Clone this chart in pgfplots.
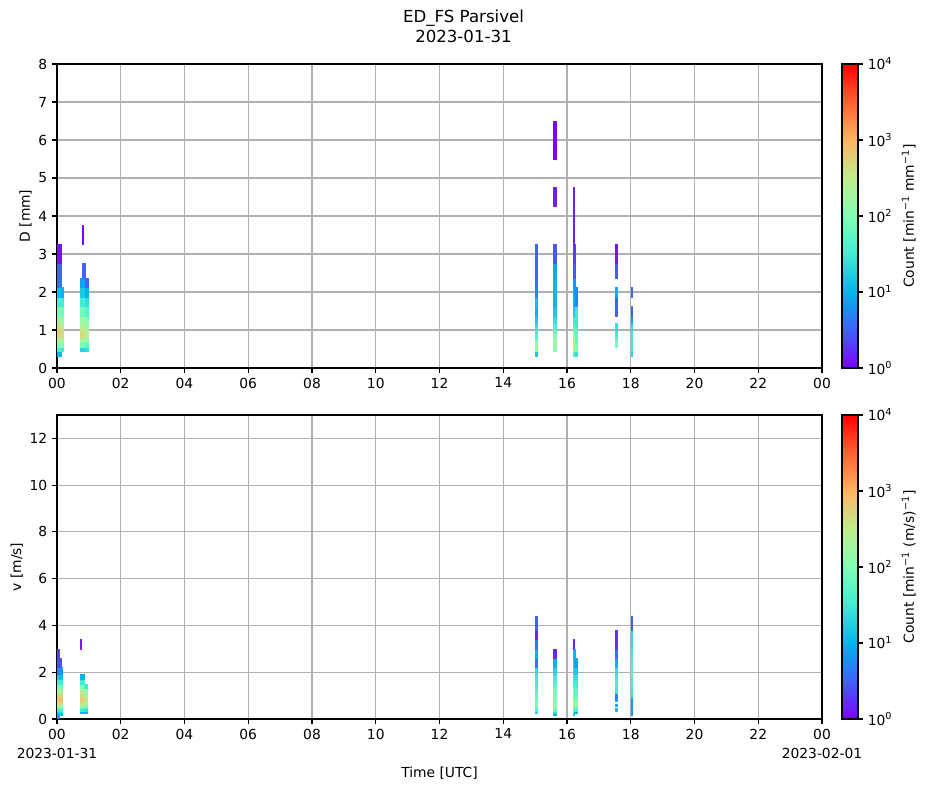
\documentclass[border=0pt]{standalone}
\usepackage{fontspec}
\setmainfont{DejaVu Sans}
\usepackage{pgfplots}
\pgfplotsset{compat=1.18}
\usepgfplotslibrary{patchplots}
\definecolor{gridgray}{RGB}{176,176,176}
\pgfplotsset{
  colormap={mplrainbow}{rgb=(0.5,0,1) rgb=(0.25,0.383,0.981) rgb=(0,0.707,0.924) rgb=(0.25,0.924,0.831) rgb=(0.5,1,0.707) rgb=(0.75,0.924,0.556) rgb=(1,0.707,0.383) rgb=(1,0.383,0.195) rgb=(1,0,0)},
  /pgf/number format/assume math mode=true,
  cells/.style={patch, patch type=rectangle, shader=flat, point meta=explicit, line width=0.2bp},
  panel/.style={
    scale only axis, width=550.8bp, height=218.88bp,
    xmin=0, xmax=24, xtick={0,2,...,24},
    grid=major, grid style={gridgray, line width=0.8bp},
    axis line style={line width=0.8bp},
    every tick/.style={black, line width=0.8bp},
    tick align=outside, major tick length=3.5bp, tick pos=left,
    ylabel shift=-2bp,
    colormap name=mplrainbow, point meta min=0, point meta max=4,
    colorbar,
    colorbar shift/.style={xshift=14.4bp},
    colorbar style={
      at={(parent axis.north east)}, anchor=north west,
      width=11.52bp,
      axis line style={line width=0.8bp},
      every tick/.style={black, line width=0.8bp},
      tick align=outside, major tick length=3.5bp,
      ytick={0,1,2,3,4},
      yticklabels={10\textsuperscript{4},10\textsuperscript{1},10\textsuperscript{2},10\textsuperscript{3},10\textsuperscript{4}},
      yticklabels={10\textsuperscript{0},10\textsuperscript{1},10\textsuperscript{2},10\textsuperscript{3},10\textsuperscript{4}},
      ytick pos=right, yticklabel pos=right, ylabel near ticks,
    },
  },
}
\begin{document}
\fontsize{10}{12}\selectfont
\begin{tikzpicture}
\path[use as bounding box] (0bp,0bp) rectangle (667.44bp,-567.36bp);
\node[align=center, font=\fontsize{12}{14.4}\selectfont] at (333.72bp,-18.72bp) {ED\_FS Parsivel\\2023-01-31};
% ---------------- top panel: diameter ----------------
\begin{axis}[panel, at={(41.04bp,-264.96bp)}, anchor=south west,
  ymin=0, ymax=8, ytick={0,1,...,8},
  xticklabels={00,02,04,06,08,10,12,14,16,18,20,22,00},
  ylabel={D [mm]},
  colorbar style={ylabel={Count [min\textsuperscript{−1} mm\textsuperscript{−1}]}},
]
\addplot[cells] coordinates {
(0.02,0.312)[1.0] (0.12,0.312)[1.0] (0.12,0.437)[1.0] (0.02,0.437)[1.0]
(0.02,0.437)[1.6] (0.12,0.437)[1.6] (0.12,0.562)[1.6] (0.02,0.562)[1.6]
(0.02,0.562)[2.0] (0.12,0.562)[2.0] (0.12,0.687)[2.0] (0.02,0.687)[2.0]
(0.02,0.687)[2.4] (0.12,0.687)[2.4] (0.12,0.812)[2.4] (0.02,0.812)[2.4]
(0.02,0.812)[2.7] (0.12,0.812)[2.7] (0.12,0.937)[2.7] (0.02,0.937)[2.7]
(0.02,0.937)[2.8] (0.12,0.937)[2.8] (0.12,1.062)[2.8] (0.02,1.062)[2.8]
(0.02,1.062)[2.6] (0.12,1.062)[2.6] (0.12,1.187)[2.6] (0.02,1.187)[2.6]
(0.02,1.187)[2.3] (0.12,1.187)[2.3] (0.12,1.375)[2.3] (0.02,1.375)[2.3]
(0.02,1.375)[2.0] (0.12,1.375)[2.0] (0.12,1.625)[2.0] (0.02,1.625)[2.0]
(0.02,1.625)[1.6] (0.12,1.625)[1.6] (0.12,1.875)[1.6] (0.02,1.875)[1.6]
(0.02,1.875)[1.1] (0.12,1.875)[1.1] (0.12,2.125)[1.1] (0.02,2.125)[1.1]
(0.02,2.125)[0.6] (0.12,2.125)[0.6] (0.12,2.375)[0.6] (0.02,2.375)[0.6]
(0.02,2.375)[0.5] (0.12,2.375)[0.5] (0.12,2.75)[0.5] (0.02,2.75)[0.5]
(0.02,2.75)[0.1] (0.12,2.75)[0.1] (0.12,3.25)[0.1] (0.02,3.25)[0.1]
(0.12,0.437)[1.5] (0.19,0.437)[1.5] (0.19,0.562)[1.5] (0.12,0.562)[1.5]
(0.12,0.562)[2.0] (0.19,0.562)[2.0] (0.19,0.687)[2.0] (0.12,0.687)[2.0]
(0.12,0.687)[2.3] (0.19,0.687)[2.3] (0.19,0.812)[2.3] (0.12,0.812)[2.3]
(0.12,0.812)[2.6] (0.19,0.812)[2.6] (0.19,0.937)[2.6] (0.12,0.937)[2.6]
(0.12,0.937)[2.6] (0.19,0.937)[2.6] (0.19,1.062)[2.6] (0.12,1.062)[2.6]
(0.12,1.062)[2.4] (0.19,1.062)[2.4] (0.19,1.187)[2.4] (0.12,1.187)[2.4]
(0.12,1.187)[2.2] (0.19,1.187)[2.2] (0.19,1.375)[2.2] (0.12,1.375)[2.2]
(0.12,1.375)[1.9] (0.19,1.375)[1.9] (0.19,1.625)[1.9] (0.12,1.625)[1.9]
(0.12,1.625)[1.5] (0.19,1.625)[1.5] (0.19,1.875)[1.5] (0.12,1.875)[1.5]
(0.12,1.875)[1.0] (0.19,1.875)[1.0] (0.19,2.125)[1.0] (0.12,2.125)[1.0]
(0.72,0.437)[1.3] (0.88,0.437)[1.3] (0.88,0.562)[1.3] (0.72,0.562)[1.3]
(0.72,0.562)[1.9] (0.88,0.562)[1.9] (0.88,0.687)[1.9] (0.72,0.687)[1.9]
(0.72,0.687)[2.3] (0.88,0.687)[2.3] (0.88,0.812)[2.3] (0.72,0.812)[2.3]
(0.72,0.812)[2.7] (0.88,0.812)[2.7] (0.88,0.937)[2.7] (0.72,0.937)[2.7]
(0.72,0.937)[2.6] (0.88,0.937)[2.6] (0.88,1.062)[2.6] (0.72,1.062)[2.6]
(0.72,1.062)[2.4] (0.88,1.062)[2.4] (0.88,1.187)[2.4] (0.72,1.187)[2.4]
(0.72,1.187)[2.2] (0.88,1.187)[2.2] (0.88,1.375)[2.2] (0.72,1.375)[2.2]
(0.72,1.375)[1.9] (0.88,1.375)[1.9] (0.88,1.625)[1.9] (0.72,1.625)[1.9]
(0.72,1.625)[1.5] (0.88,1.625)[1.5] (0.88,1.875)[1.5] (0.72,1.875)[1.5]
(0.72,1.875)[1.2] (0.88,1.875)[1.2] (0.88,2.125)[1.2] (0.72,2.125)[1.2]
(0.72,2.125)[0.9] (0.88,2.125)[0.9] (0.88,2.375)[0.9] (0.72,2.375)[0.9]
(0.78,3.25)[0.05] (0.83,3.25)[0.05] (0.83,3.75)[0.05] (0.78,3.75)[0.05]
(0.80,2.375)[0.5] (0.88,2.375)[0.5] (0.88,2.75)[0.5] (0.80,2.75)[0.5]
(0.88,0.437)[1.4] (0.97,0.437)[1.4] (0.97,0.562)[1.4] (0.88,0.562)[1.4]
(0.88,0.562)[1.8] (0.97,0.562)[1.8] (0.97,0.687)[1.8] (0.88,0.687)[1.8]
(0.88,0.687)[2.1] (0.97,0.687)[2.1] (0.97,0.812)[2.1] (0.88,0.812)[2.1]
(0.88,0.812)[2.4] (0.97,0.812)[2.4] (0.97,1.062)[2.4] (0.88,1.062)[2.4]
(0.88,1.062)[2.2] (0.97,1.062)[2.2] (0.97,1.187)[2.2] (0.88,1.187)[2.2]
(0.88,1.187)[2.0] (0.97,1.187)[2.0] (0.97,1.375)[2.0] (0.88,1.375)[2.0]
(0.88,1.375)[1.7] (0.97,1.375)[1.7] (0.97,1.625)[1.7] (0.88,1.625)[1.7]
(0.88,1.625)[1.4] (0.97,1.625)[1.4] (0.97,1.875)[1.4] (0.88,1.875)[1.4]
(0.88,1.875)[1.0] (0.97,1.875)[1.0] (0.97,2.125)[1.0] (0.88,2.125)[1.0]
(0.88,2.125)[0.5] (0.97,2.125)[0.5] (0.97,2.375)[0.5] (0.88,2.375)[0.5]
(15.0,0.312)[1.2] (15.05,0.312)[1.2] (15.05,0.437)[1.2] (15.0,0.437)[1.2]
(15.0,0.437)[2.3] (15.05,0.437)[2.3] (15.05,0.562)[2.3] (15.0,0.562)[2.3]
(15.0,0.562)[2.2] (15.05,0.562)[2.2] (15.05,0.687)[2.2] (15.0,0.687)[2.2]
(15.0,0.687)[1.9] (15.05,0.687)[1.9] (15.05,0.812)[1.9] (15.0,0.812)[1.9]
(15.0,0.812)[1.6] (15.05,0.812)[1.6] (15.05,0.937)[1.6] (15.0,0.937)[1.6]
(15.0,0.937)[1.5] (15.05,0.937)[1.5] (15.05,1.062)[1.5] (15.0,1.062)[1.5]
(15.0,1.062)[1.4] (15.05,1.062)[1.4] (15.05,1.187)[1.4] (15.0,1.187)[1.4]
(15.0,1.187)[1.2] (15.05,1.187)[1.2] (15.05,1.375)[1.2] (15.0,1.375)[1.2]
(15.0,1.375)[1.0] (15.05,1.375)[1.0] (15.05,1.625)[1.0] (15.0,1.625)[1.0]
(15.0,1.625)[1.1] (15.05,1.625)[1.1] (15.05,1.875)[1.1] (15.0,1.875)[1.1]
(15.0,1.875)[0.7] (15.05,1.875)[0.7] (15.05,2.125)[0.7] (15.0,2.125)[0.7]
(15.0,2.125)[0.6] (15.05,2.125)[0.6] (15.05,2.375)[0.6] (15.0,2.375)[0.6]
(15.0,2.375)[0.5] (15.05,2.375)[0.5] (15.05,3.25)[0.5] (15.0,3.25)[0.5]
(15.58,0.437)[2.1] (15.65,0.437)[2.1] (15.65,0.562)[2.1] (15.58,0.562)[2.1]
(15.58,0.562)[2.2] (15.65,0.562)[2.2] (15.65,0.812)[2.2] (15.58,0.812)[2.2]
(15.58,0.812)[2.0] (15.65,0.812)[2.0] (15.65,0.937)[2.0] (15.58,0.937)[2.0]
(15.58,0.937)[1.7] (15.65,0.937)[1.7] (15.65,1.062)[1.7] (15.58,1.062)[1.7]
(15.58,1.062)[1.6] (15.65,1.062)[1.6] (15.65,1.187)[1.6] (15.58,1.187)[1.6]
(15.58,1.187)[1.4] (15.65,1.187)[1.4] (15.65,1.375)[1.4] (15.58,1.375)[1.4]
(15.58,1.375)[1.2] (15.65,1.375)[1.2] (15.65,1.625)[1.2] (15.58,1.625)[1.2]
(15.58,1.625)[1.05] (15.65,1.625)[1.05] (15.65,2.375)[1.05] (15.58,2.375)[1.05]
(15.58,2.375)[0.95] (15.65,2.375)[0.95] (15.65,2.75)[0.95] (15.58,2.75)[0.95]
(15.58,2.75)[0.45] (15.65,2.75)[0.45] (15.65,3.25)[0.45] (15.58,3.25)[0.45]
(15.58,4.25)[0.15] (15.65,4.25)[0.15] (15.65,4.75)[0.15] (15.58,4.75)[0.15]
(15.58,5.5)[0.0] (15.65,5.5)[0.0] (15.65,6.5)[0.0] (15.58,6.5)[0.0]
(16.18,0.312)[1.6] (16.27,0.312)[1.6] (16.27,0.437)[1.6] (16.18,0.437)[1.6]
(16.18,0.437)[2.3] (16.27,0.437)[2.3] (16.27,0.562)[2.3] (16.18,0.562)[2.3]
(16.18,0.562)[2.6] (16.27,0.562)[2.6] (16.27,0.687)[2.6] (16.18,0.687)[2.6]
(16.18,0.687)[2.5] (16.27,0.687)[2.5] (16.27,0.812)[2.5] (16.18,0.812)[2.5]
(16.18,0.812)[2.2] (16.27,0.812)[2.2] (16.27,0.937)[2.2] (16.18,0.937)[2.2]
(16.18,0.937)[1.9] (16.27,0.937)[1.9] (16.27,1.062)[1.9] (16.18,1.062)[1.9]
(16.18,1.062)[1.7] (16.27,1.062)[1.7] (16.27,1.187)[1.7] (16.18,1.187)[1.7]
(16.18,1.187)[1.5] (16.27,1.187)[1.5] (16.27,1.375)[1.5] (16.18,1.375)[1.5]
(16.18,1.375)[1.2] (16.27,1.375)[1.2] (16.27,1.625)[1.2] (16.18,1.625)[1.2]
(16.18,1.625)[1.0] (16.27,1.625)[1.0] (16.27,1.875)[1.0] (16.18,1.875)[1.0]
(16.18,1.875)[0.9] (16.27,1.875)[0.9] (16.27,2.125)[0.9] (16.18,2.125)[0.9]
(16.18,2.125)[0.8] (16.27,2.125)[0.8] (16.27,2.375)[0.8] (16.18,2.375)[0.8]
(16.18,2.375)[0.45] (16.27,2.375)[0.45] (16.27,2.75)[0.45] (16.18,2.75)[0.45]
(16.18,2.75)[0.3] (16.27,2.75)[0.3] (16.27,3.25)[0.3] (16.18,3.25)[0.3]
(16.18,3.25)[0.15] (16.22,3.25)[0.15] (16.22,4.75)[0.15] (16.18,4.75)[0.15]
(16.27,0.312)[1.4] (16.31,0.312)[1.4] (16.31,0.437)[1.4] (16.27,0.437)[1.4]
(16.27,0.437)[2.0] (16.31,0.437)[2.0] (16.31,0.687)[2.0] (16.27,0.687)[2.0]
(16.27,0.687)[1.8] (16.31,0.687)[1.8] (16.31,1.062)[1.8] (16.27,1.062)[1.8]
(16.27,1.062)[1.5] (16.31,1.062)[1.5] (16.31,1.625)[1.5] (16.27,1.625)[1.5]
(16.27,1.625)[0.7] (16.31,1.625)[0.7] (16.31,2.125)[0.7] (16.27,2.125)[0.7]
(17.5,0.562)[1.9] (17.57,0.562)[1.9] (17.57,0.687)[1.9] (17.5,0.687)[1.9]
(17.5,0.687)[1.8] (17.57,0.687)[1.8] (17.57,0.812)[1.8] (17.5,0.812)[1.8]
(17.5,0.812)[1.5] (17.57,0.812)[1.5] (17.57,0.937)[1.5] (17.5,0.937)[1.5]
(17.5,0.937)[1.4] (17.57,0.937)[1.4] (17.57,1.187)[1.4] (17.5,1.187)[1.4]
(17.5,1.375)[0.5] (17.57,1.375)[0.5] (17.57,1.875)[0.5] (17.5,1.875)[0.5]
(17.5,1.875)[1.0] (17.57,1.875)[1.0] (17.57,2.125)[1.0] (17.5,2.125)[1.0]
(17.5,2.375)[0.45] (17.57,2.375)[0.45] (17.57,2.75)[0.45] (17.5,2.75)[0.45]
(17.5,2.75)[0.1] (17.57,2.75)[0.1] (17.57,3.25)[0.1] (17.5,3.25)[0.1]
(18.0,0.312)[1.3] (18.04,0.312)[1.3] (18.04,0.437)[1.3] (18.0,0.437)[1.3]
(18.0,0.437)[1.5] (18.04,0.437)[1.5] (18.04,0.937)[1.5] (18.0,0.937)[1.5]
(18.0,0.937)[1.35] (18.04,0.937)[1.35] (18.04,1.187)[1.35] (18.0,1.187)[1.35]
(18.0,1.187)[0.9] (18.04,1.187)[0.9] (18.04,1.375)[0.9] (18.0,1.375)[0.9]
(18.0,1.375)[0.5] (18.04,1.375)[0.5] (18.04,1.625)[0.5] (18.0,1.625)[0.5]
(18.0,1.875)[0.5] (18.04,1.875)[0.5] (18.04,2.125)[0.5] (18.0,2.125)[0.5]
};
\end{axis}
% ---------------- bottom panel: velocity ----------------
\begin{axis}[panel, at={(41.04bp,-517.68bp)}, anchor=south west,
  ymin=0, ymax=13, ytick={0,2,...,12},
  xticklabels={{00\\2023-01-31},02,04,06,08,10,12,14,16,18,20,22,{00\\2023-02-01}},
  xticklabel style={align=center, font=\fontsize{10}{14.4}\selectfont},
  xlabel={Time [UTC]}, xlabel shift=-1.5bp,
  ylabel={v [m/s]},
  colorbar style={ylabel={Count [min\textsuperscript{−1} (m/s)\textsuperscript{−1}]}},
]
\addplot[cells] coordinates {
(0.02,0.05)[0.8] (0.06,0.05)[0.8] (0.06,0.15)[0.8] (0.02,0.15)[0.8]
(0.02,0.15)[1.0] (0.06,0.15)[1.0] (0.06,0.25)[1.0] (0.02,0.25)[1.0]
(0.02,0.25)[1.2] (0.06,0.25)[1.2] (0.06,0.35)[1.2] (0.02,0.35)[1.2]
(0.02,0.35)[1.5] (0.06,0.35)[1.5] (0.06,0.45)[1.5] (0.02,0.45)[1.5]
(0.02,0.45)[1.9] (0.06,0.45)[1.9] (0.06,0.55)[1.9] (0.02,0.55)[1.9]
(0.02,0.55)[2.2] (0.06,0.55)[2.2] (0.06,0.65)[2.2] (0.02,0.65)[2.2]
(0.02,0.65)[2.5] (0.06,0.65)[2.5] (0.06,0.75)[2.5] (0.02,0.75)[2.5]
(0.02,0.75)[2.8] (0.06,0.75)[2.8] (0.06,0.85)[2.8] (0.02,0.85)[2.8]
(0.02,0.85)[2.9] (0.06,0.85)[2.9] (0.06,0.95)[2.9] (0.02,0.95)[2.9]
(0.02,0.95)[2.8] (0.06,0.95)[2.8] (0.06,1.1)[2.8] (0.02,1.1)[2.8]
(0.02,1.1)[2.4] (0.06,1.1)[2.4] (0.06,1.3)[2.4] (0.02,1.3)[2.4]
(0.02,1.3)[2.0] (0.06,1.3)[2.0] (0.06,1.5)[2.0] (0.02,1.5)[2.0]
(0.02,1.5)[1.6] (0.06,1.5)[1.6] (0.06,1.7)[1.6] (0.02,1.7)[1.6]
(0.02,1.7)[1.2] (0.06,1.7)[1.2] (0.06,1.9)[1.2] (0.02,1.9)[1.2]
(0.02,1.9)[0.7] (0.06,1.9)[0.7] (0.06,2.2)[0.7] (0.02,2.2)[0.7]
(0.02,2.2)[0.4] (0.06,2.2)[0.4] (0.06,2.6)[0.4] (0.02,2.6)[0.4]
(0.02,2.6)[0.3] (0.06,2.6)[0.3] (0.06,3.0)[0.3] (0.02,3.0)[0.3]
(0.06,0.15)[1.0] (0.17,0.15)[1.0] (0.17,0.25)[1.0] (0.06,0.25)[1.0]
(0.06,0.25)[1.3] (0.17,0.25)[1.3] (0.17,0.35)[1.3] (0.06,0.35)[1.3]
(0.06,0.35)[1.6] (0.17,0.35)[1.6] (0.17,0.45)[1.6] (0.06,0.45)[1.6]
(0.06,0.45)[2.0] (0.17,0.45)[2.0] (0.17,0.55)[2.0] (0.06,0.55)[2.0]
(0.06,0.55)[2.4] (0.17,0.55)[2.4] (0.17,0.65)[2.4] (0.06,0.65)[2.4]
(0.06,0.65)[2.7] (0.17,0.65)[2.7] (0.17,0.75)[2.7] (0.06,0.75)[2.7]
(0.06,0.75)[2.9] (0.17,0.75)[2.9] (0.17,0.95)[2.9] (0.06,0.95)[2.9]
(0.06,0.95)[2.7] (0.17,0.95)[2.7] (0.17,1.1)[2.7] (0.06,1.1)[2.7]
(0.06,1.1)[2.3] (0.17,1.1)[2.3] (0.17,1.3)[2.3] (0.06,1.3)[2.3]
(0.06,1.3)[1.9] (0.17,1.3)[1.9] (0.17,1.5)[1.9] (0.06,1.5)[1.9]
(0.06,1.5)[1.5] (0.17,1.5)[1.5] (0.17,1.7)[1.5] (0.06,1.7)[1.5]
(0.06,1.7)[1.1] (0.17,1.7)[1.1] (0.17,1.9)[1.1] (0.06,1.9)[1.1]
(0.06,1.9)[0.8] (0.17,1.9)[0.8] (0.17,2.2)[0.8] (0.06,2.2)[0.8]
(0.06,2.2)[0.4] (0.12,2.2)[0.4] (0.12,2.6)[0.4] (0.06,2.6)[0.4]
(0.73,3.0)[0.1] (0.76,3.0)[0.1] (0.76,3.4)[0.1] (0.73,3.4)[0.1]
(0.72,0.25)[1.0] (0.84,0.25)[1.0] (0.84,0.35)[1.0] (0.72,0.35)[1.0]
(0.72,0.35)[1.5] (0.84,0.35)[1.5] (0.84,0.45)[1.5] (0.72,0.45)[1.5]
(0.72,0.45)[1.9] (0.84,0.45)[1.9] (0.84,0.55)[1.9] (0.72,0.55)[1.9]
(0.72,0.55)[2.3] (0.84,0.55)[2.3] (0.84,0.65)[2.3] (0.72,0.65)[2.3]
(0.72,0.65)[2.6] (0.84,0.65)[2.6] (0.84,0.75)[2.6] (0.72,0.75)[2.6]
(0.72,0.75)[2.8] (0.84,0.75)[2.8] (0.84,0.95)[2.8] (0.72,0.95)[2.8]
(0.72,0.95)[2.7] (0.84,0.95)[2.7] (0.84,1.1)[2.7] (0.72,1.1)[2.7]
(0.72,1.1)[2.4] (0.84,1.1)[2.4] (0.84,1.3)[2.4] (0.72,1.3)[2.4]
(0.72,1.3)[2.0] (0.84,1.3)[2.0] (0.84,1.5)[2.0] (0.72,1.5)[2.0]
(0.72,1.5)[1.5] (0.84,1.5)[1.5] (0.84,1.7)[1.5] (0.72,1.7)[1.5]
(0.72,1.7)[1.0] (0.84,1.7)[1.0] (0.84,1.9)[1.0] (0.72,1.9)[1.0]
(0.84,0.25)[1.0] (0.93,0.25)[1.0] (0.93,0.35)[1.0] (0.84,0.35)[1.0]
(0.84,0.35)[1.4] (0.93,0.35)[1.4] (0.93,0.45)[1.4] (0.84,0.45)[1.4]
(0.84,0.45)[1.8] (0.93,0.45)[1.8] (0.93,0.55)[1.8] (0.84,0.55)[1.8]
(0.84,0.55)[2.1] (0.93,0.55)[2.1] (0.93,0.65)[2.1] (0.84,0.65)[2.1]
(0.84,0.65)[2.4] (0.93,0.65)[2.4] (0.93,0.75)[2.4] (0.84,0.75)[2.4]
(0.84,0.75)[2.6] (0.93,0.75)[2.6] (0.93,0.95)[2.6] (0.84,0.95)[2.6]
(0.84,0.95)[2.4] (0.93,0.95)[2.4] (0.93,1.1)[2.4] (0.84,1.1)[2.4]
(0.84,1.1)[2.1] (0.93,1.1)[2.1] (0.93,1.3)[2.1] (0.84,1.3)[2.1]
(0.84,1.3)[1.5] (0.93,1.3)[1.5] (0.93,1.5)[1.5] (0.84,1.5)[1.5]
(15.0,0.25)[1.3] (15.05,0.25)[1.3] (15.05,0.35)[1.3] (15.0,0.35)[1.3]
(15.0,0.35)[1.7] (15.05,0.35)[1.7] (15.05,0.55)[1.7] (15.0,0.55)[1.7]
(15.0,0.55)[2.0] (15.05,0.55)[2.0] (15.05,0.85)[2.0] (15.0,0.85)[2.0]
(15.0,0.85)[1.85] (15.05,0.85)[1.85] (15.05,1.1)[1.85] (15.0,1.1)[1.85]
(15.0,1.1)[1.65] (15.05,1.1)[1.65] (15.05,1.5)[1.65] (15.0,1.5)[1.65]
(15.0,1.5)[1.5] (15.05,1.5)[1.5] (15.05,1.9)[1.5] (15.0,1.9)[1.5]
(15.0,1.9)[1.4] (15.05,1.9)[1.4] (15.05,2.2)[1.4] (15.0,2.2)[1.4]
(15.0,2.2)[0.6] (15.05,2.2)[0.6] (15.05,2.6)[0.6] (15.0,2.6)[0.6]
(15.0,2.6)[1.0] (15.05,2.6)[1.0] (15.05,3.0)[1.0] (15.0,3.0)[1.0]
(15.0,3.0)[0.6] (15.05,3.0)[0.6] (15.05,3.4)[0.6] (15.0,3.4)[0.6]
(15.0,3.4)[0.2] (15.05,3.4)[0.2] (15.05,3.8)[0.2] (15.0,3.8)[0.2]
(15.0,3.8)[0.5] (15.05,3.8)[0.5] (15.05,4.4)[0.5] (15.0,4.4)[0.5]
(15.58,0.15)[1.0] (15.65,0.15)[1.0] (15.65,0.25)[1.0] (15.58,0.25)[1.0]
(15.58,0.25)[1.4] (15.65,0.25)[1.4] (15.65,0.35)[1.4] (15.58,0.35)[1.4]
(15.58,0.35)[1.8] (15.65,0.35)[1.8] (15.65,0.45)[1.8] (15.58,0.45)[1.8]
(15.58,0.45)[2.1] (15.65,0.45)[2.1] (15.65,0.95)[2.1] (15.58,0.95)[2.1]
(15.58,0.95)[1.95] (15.65,0.95)[1.95] (15.65,1.3)[1.95] (15.58,1.3)[1.95]
(15.58,1.3)[1.8] (15.65,1.3)[1.8] (15.65,1.5)[1.8] (15.58,1.5)[1.8]
(15.58,1.5)[1.6] (15.65,1.5)[1.6] (15.65,1.7)[1.6] (15.58,1.7)[1.6]
(15.58,1.7)[1.5] (15.65,1.7)[1.5] (15.65,1.9)[1.5] (15.58,1.9)[1.5]
(15.58,1.9)[1.3] (15.65,1.9)[1.3] (15.65,2.2)[1.3] (15.58,2.2)[1.3]
(15.58,2.2)[1.0] (15.65,2.2)[1.0] (15.65,2.6)[1.0] (15.58,2.6)[1.0]
(15.58,2.6)[0.2] (15.65,2.6)[0.2] (15.65,3.0)[0.2] (15.58,3.0)[0.2]
(16.18,0.15)[1.2] (16.23,0.15)[1.2] (16.23,0.25)[1.2] (16.18,0.25)[1.2]
(16.18,0.25)[1.7] (16.23,0.25)[1.7] (16.23,0.35)[1.7] (16.18,0.35)[1.7]
(16.18,0.35)[2.0] (16.23,0.35)[2.0] (16.23,0.45)[2.0] (16.18,0.45)[2.0]
(16.18,0.45)[2.2] (16.23,0.45)[2.2] (16.23,0.55)[2.2] (16.18,0.55)[2.2]
(16.18,0.55)[2.4] (16.23,0.55)[2.4] (16.23,0.75)[2.4] (16.18,0.75)[2.4]
(16.18,0.75)[2.25] (16.23,0.75)[2.25] (16.23,0.95)[2.25] (16.18,0.95)[2.25]
(16.18,0.95)[2.05] (16.23,0.95)[2.05] (16.23,1.3)[2.05] (16.18,1.3)[2.05]
(16.18,1.3)[1.8] (16.23,1.3)[1.8] (16.23,1.5)[1.8] (16.18,1.5)[1.8]
(16.18,1.5)[1.6] (16.23,1.5)[1.6] (16.23,1.7)[1.6] (16.18,1.7)[1.6]
(16.18,1.7)[1.5] (16.23,1.7)[1.5] (16.23,1.9)[1.5] (16.18,1.9)[1.5]
(16.18,1.9)[1.4] (16.23,1.9)[1.4] (16.23,2.2)[1.4] (16.18,2.2)[1.4]
(16.18,2.2)[1.3] (16.23,2.2)[1.3] (16.23,2.6)[1.3] (16.18,2.6)[1.3]
(16.18,2.6)[1.1] (16.23,2.6)[1.1] (16.23,3.0)[1.1] (16.18,3.0)[1.1]
(16.18,3.0)[0.15] (16.23,3.0)[0.15] (16.23,3.4)[0.15] (16.18,3.4)[0.15]
(16.23,0.25)[1.0] (16.31,0.25)[1.0] (16.31,0.35)[1.0] (16.23,0.35)[1.0]
(16.23,0.35)[1.6] (16.31,0.35)[1.6] (16.31,0.45)[1.6] (16.23,0.45)[1.6]
(16.23,0.45)[1.9] (16.31,0.45)[1.9] (16.31,0.55)[1.9] (16.23,0.55)[1.9]
(16.23,0.55)[2.1] (16.31,0.55)[2.1] (16.31,0.75)[2.1] (16.23,0.75)[2.1]
(16.23,0.75)[2.0] (16.31,0.75)[2.0] (16.31,0.95)[2.0] (16.23,0.95)[2.0]
(16.23,0.95)[1.8] (16.31,0.95)[1.8] (16.31,1.3)[1.8] (16.23,1.3)[1.8]
(16.23,1.3)[1.6] (16.31,1.3)[1.6] (16.31,1.5)[1.6] (16.23,1.5)[1.6]
(16.23,1.5)[1.5] (16.31,1.5)[1.5] (16.31,1.7)[1.5] (16.23,1.7)[1.5]
(16.23,1.7)[1.4] (16.31,1.7)[1.4] (16.31,1.9)[1.4] (16.23,1.9)[1.4]
(16.23,1.9)[1.2] (16.31,1.9)[1.2] (16.31,2.2)[1.2] (16.23,2.2)[1.2]
(16.23,2.2)[0.9] (16.31,2.2)[0.9] (16.31,2.6)[0.9] (16.23,2.6)[0.9]
(16.23,2.6)[1.0] (16.27,2.6)[1.0] (16.27,3.0)[1.0] (16.23,3.0)[1.0]
(17.5,0.35)[1.1] (17.57,0.35)[1.1] (17.57,0.45)[1.1] (17.5,0.45)[1.1]
(17.5,0.55)[1.0] (17.57,0.55)[1.0] (17.57,0.65)[1.0] (17.5,0.65)[1.0]
(17.5,0.75)[0.9] (17.57,0.75)[0.9] (17.57,0.85)[0.9] (17.5,0.85)[0.9]
(17.5,0.85)[0.7] (17.57,0.85)[0.7] (17.57,1.1)[0.7] (17.5,1.1)[0.7]
(17.5,1.1)[1.5] (17.57,1.1)[1.5] (17.57,1.5)[1.5] (17.5,1.5)[1.5]
(17.5,1.5)[1.6] (17.57,1.5)[1.6] (17.57,1.7)[1.6] (17.5,1.7)[1.6]
(17.5,1.7)[1.5] (17.57,1.7)[1.5] (17.57,1.9)[1.5] (17.5,1.9)[1.5]
(17.5,1.9)[1.4] (17.57,1.9)[1.4] (17.57,2.2)[1.4] (17.5,2.2)[1.4]
(17.5,2.2)[1.0] (17.57,2.2)[1.0] (17.57,2.6)[1.0] (17.5,2.6)[1.0]
(17.5,2.6)[0.6] (17.57,2.6)[0.6] (17.57,3.0)[0.6] (17.5,3.0)[0.6]
(17.5,3.0)[0.25] (17.57,3.0)[0.25] (17.57,3.8)[0.25] (17.5,3.8)[0.25]
(18.0,0.15)[0.8] (18.04,0.15)[0.8] (18.04,0.55)[0.8] (18.0,0.55)[0.8]
(18.0,0.55)[0.9] (18.04,0.55)[0.9] (18.04,0.75)[0.9] (18.0,0.75)[0.9]
(18.0,0.75)[0.8] (18.04,0.75)[0.8] (18.04,0.85)[0.8] (18.0,0.85)[0.8]
(18.0,0.85)[1.0] (18.04,0.85)[1.0] (18.04,0.95)[1.0] (18.0,0.95)[1.0]
(18.0,0.95)[1.4] (18.04,0.95)[1.4] (18.04,1.1)[1.4] (18.0,1.1)[1.4]
(18.0,1.1)[1.5] (18.04,1.1)[1.5] (18.04,1.5)[1.5] (18.0,1.5)[1.5]
(18.0,1.5)[1.65] (18.04,1.5)[1.65] (18.04,1.9)[1.65] (18.0,1.9)[1.65]
(18.0,1.9)[1.7] (18.04,1.9)[1.7] (18.04,2.2)[1.7] (18.0,2.2)[1.7]
(18.0,2.2)[1.6] (18.04,2.2)[1.6] (18.04,2.6)[1.6] (18.0,2.6)[1.6]
(18.0,2.6)[1.5] (18.04,2.6)[1.5] (18.04,3.0)[1.5] (18.0,3.0)[1.5]
(18.0,3.0)[1.35] (18.04,3.0)[1.35] (18.04,3.8)[1.35] (18.0,3.8)[1.35]
(18.0,3.8)[0.5] (18.04,3.8)[0.5] (18.04,4.4)[0.5] (18.0,4.4)[0.5]
};
\end{axis}
\end{tikzpicture}
\end{document}
